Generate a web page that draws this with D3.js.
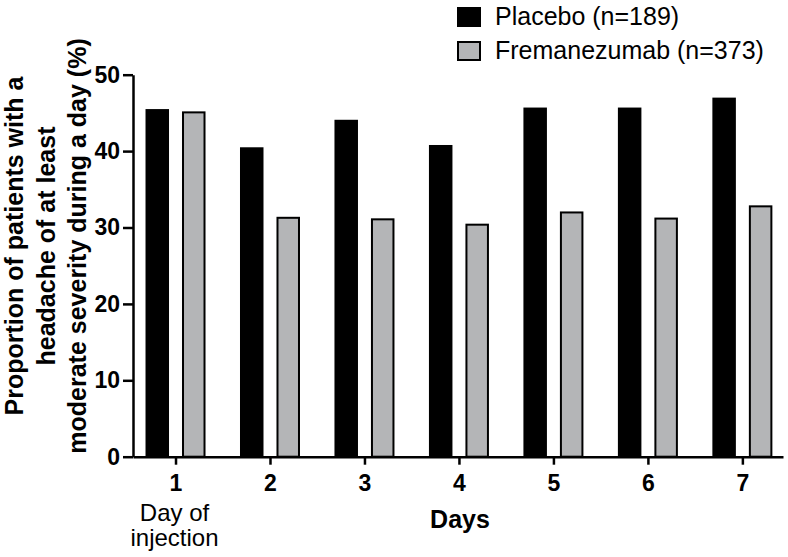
<!DOCTYPE html>
<html>
<head>
<meta charset="utf-8">
<script src="https://cdn.jsdelivr.net/npm/d3@7"></script>
<style>
  html, body { margin: 0; padding: 0; background: #fff; }
  svg { display: block; font-family: "Liberation Sans", Arial, Helvetica, sans-serif; }
</style>
</head>
<body>
<svg id="chart" width="788" height="557"></svg>
<script>
const days = [1, 2, 3, 4, 5, 6, 7];
const placebo = [45.5, 40.5, 44.1, 40.8, 45.7, 45.7, 47.0];
const fremanezumab = [45.2, 31.4, 31.2, 30.5, 32.1, 31.3, 32.9];
const seriesNames = ["Placebo (n=189)", "Fremanezumab (n=373)"];
const seriesColors = ["#000000", "#b4b5b7"];
const yTicks = [0, 10, 20, 30, 40, 50];
const yTitleLines = ["Proportion of patients with a", "headache of at least", "moderate severity during a day (%)"];

const svg = d3.select("#chart");

const x = d3.scaleLinear().domain([0.55, 7.43]).range([133, 783]);
const y = d3.scaleLinear().domain([0, 50]).range([456.7, 74.7]);
const inner = d3.scaleBand().domain([0, 1]).range([-30, 30]).paddingInner(0.356).paddingOuter(0);

const data = days.map((d, i) => ({ day: d, vals: [placebo[i], fremanezumab[i]] }));

// bars
const groups = svg.append("g").selectAll("g").data(data).join("g")
  .attr("transform", d => `translate(${x(d.day)},0)`);

groups.selectAll("rect").data(d => d.vals.map((v, k) => ({ v, k }))).join("rect")
  .attr("x", d => d.k === 0 ? inner(0) : inner(1) + 1)
  .attr("width", d => d.k === 0 ? inner.bandwidth() : inner.bandwidth() - 2)
  .attr("y", d => y(d.v) + (d.k === 0 ? 0 : 1))
  .attr("height", d => y(0) - y(d.v) - (d.k === 0 ? 0 : 1))
  .attr("fill", d => seriesColors[d.k])
  .attr("stroke", d => d.k === 0 ? "none" : "#000")
  .attr("stroke-width", 2);

// axes
const xAxis = svg.append("g")
  .attr("transform", `translate(0,${y(0)})`)
  .call(d3.axisBottom(x).tickValues(days).tickFormat(d3.format("d")).tickSize(8).tickSizeOuter(0).tickPadding(10));
xAxis.selectAll("text").attr("font-size", 23).attr("font-weight", "bold").attr("fill", "#000")
  .attr("font-family", "Liberation Sans, Arial, sans-serif");

const yAxis = svg.append("g")
  .attr("transform", `translate(${x.range()[0]},0)`)
  .call(d3.axisLeft(y).tickValues(yTicks).tickSize(10).tickSizeOuter(0).tickPadding(3));
yAxis.selectAll("text").attr("font-size", 23).attr("font-weight", "bold").attr("fill", "#000")
  .attr("font-family", "Liberation Sans, Arial, sans-serif");

svg.selectAll(".domain, .tick line").attr("stroke", "#000").attr("stroke-width", 2.5);

// sub-label under day 1
const sub = svg.append("text").attr("text-anchor", "middle").attr("font-size", 24).attr("fill", "#000");
sub.append("tspan").attr("x", x(1) - 1).attr("y", 521).text("Day of");
sub.append("tspan").attr("x", x(1) - 1).attr("y", 546).text("injection");

// x title
svg.append("text").attr("x", 460).attr("y", 528).attr("text-anchor", "middle")
  .attr("font-size", 25).attr("font-weight", "bold").attr("fill", "#000").text("Days");

// y title
const yt = svg.append("text").attr("transform", "translate(0,246) rotate(-90)")
  .attr("text-anchor", "middle").attr("font-size", 25).attr("font-weight", "bold").attr("fill", "#000");
yTitleLines.forEach((t, i) => {
  yt.append("tspan").attr("x", 0).attr("y", 23 + i * 31.5).text(t);
});

// legend
const leg = svg.append("g");
seriesNames.forEach((n, i) => {
  const ly = 8 + i * 34;
  leg.append("rect").attr("x", 458).attr("y", ly).attr("width", 22).attr("height", 18)
    .attr("fill", seriesColors[i]).attr("stroke", "#000").attr("stroke-width", 2);
  leg.append("text").attr("x", 495).attr("y", ly + 17).attr("font-size", 25).attr("fill", "#000").text(n);
});
</script>
</body>
</html>
